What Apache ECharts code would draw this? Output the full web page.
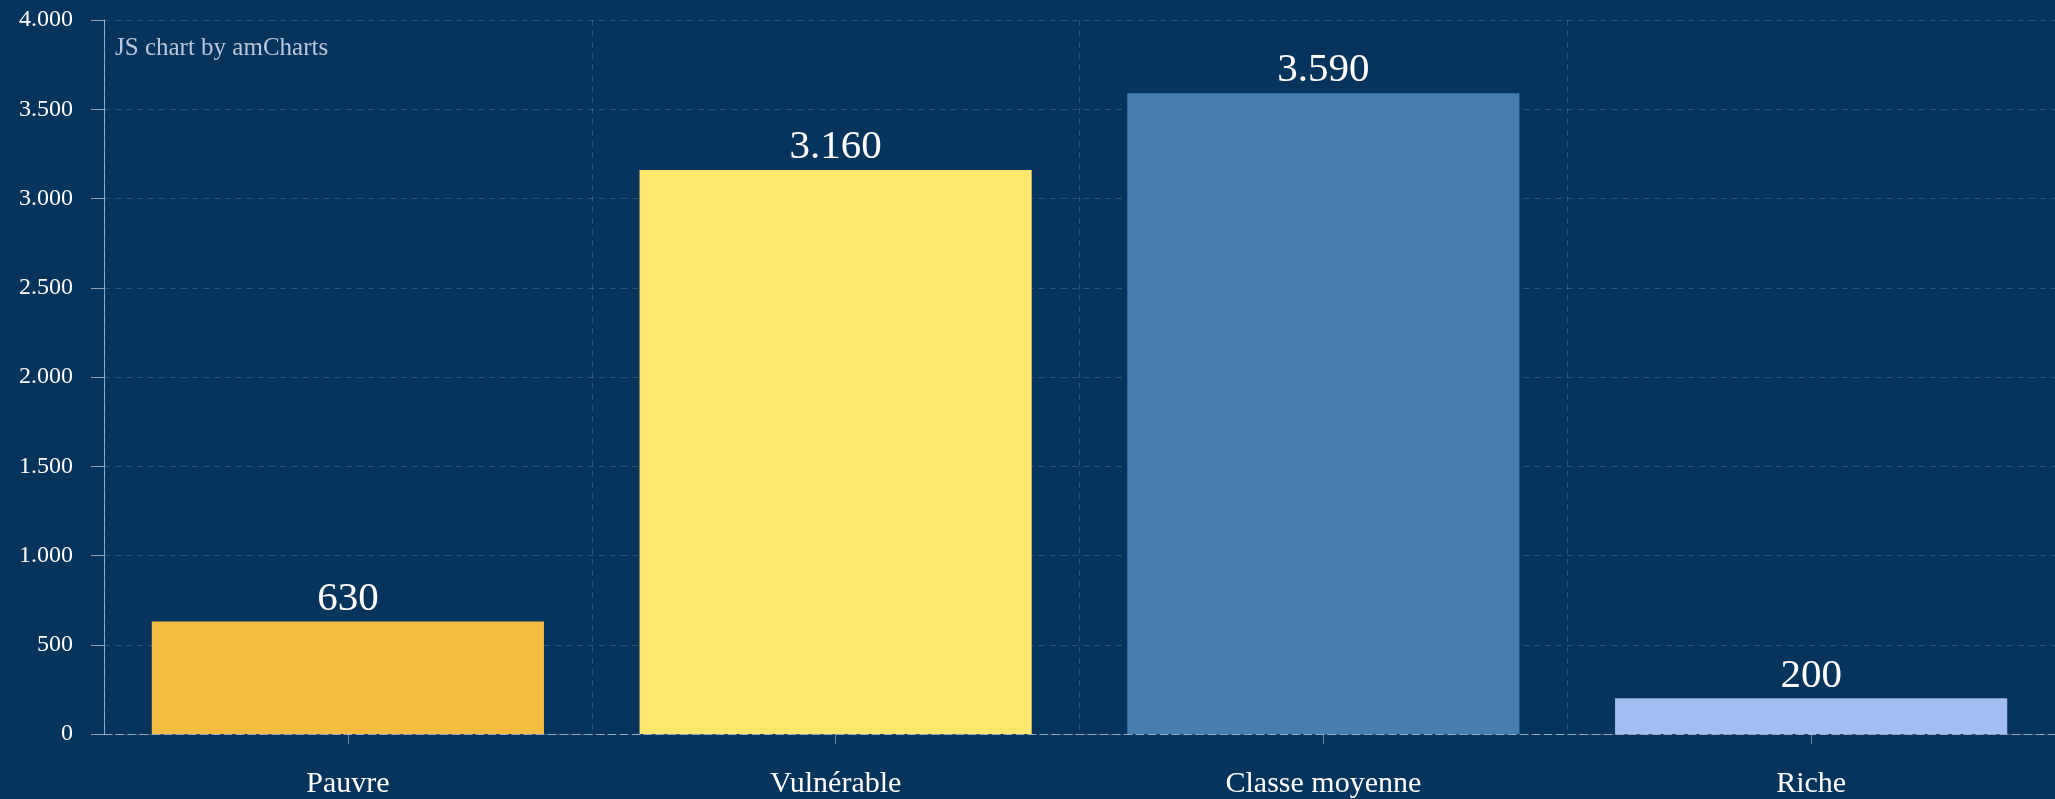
<!DOCTYPE html>
<html>
<head>
<meta charset="utf-8">
<script src="https://cdn.jsdelivr.net/npm/echarts@6/dist/echarts.min.js"></script>
<style>
html,body{margin:0;padding:0;background:#07345d;}
#c{width:2055px;height:799px;}
</style>
</head>
<body>
<div id="c"></div>
<script>
const categories = ['Pauvre', 'Vulnérable', 'Classe moyenne', 'Riche'];
const values = [630, 3160, 3590, 200];
const barColors = ['#F2BC42', '#FFE76E', '#477DAF', '#A0BEF0'];
const yTicks = [0, 500, 1000, 1500, 2000, 2500, 3000, 3500, 4000];

function fmt(v) {
  return String(Math.round(v)).replace(/\B(?=(\d{3})+(?!\d))/g, '.');
}

const chart = echarts.init(document.getElementById('c'));
chart.setOption({
  backgroundColor: '#07345d',
  animation: false,
  textStyle: { fontFamily: 'Liberation Serif, Times New Roman, serif' },
  graphic: [{
    type: 'text', left: 115, top: 36,
    style: { text: 'JS chart by amCharts', fill: '#b8c8dc', font: '25px "Liberation Serif", serif' }
  }],
  grid: { left: 104, right: -12, top: 20, bottom: 64, containLabel: false },
  xAxis: {
    type: 'category',
    data: categories,
    axisLine: { show: true, lineStyle: { color: 'rgba(255,255,255,0.55)', type: [8, 4], width: 1 } },
    axisTick: { show: true, alignWithLabel: true, length: 10, lineStyle: { color: 'rgba(255,255,255,0.4)' } },
    axisLabel: { color: '#ffffff', fontSize: 30, margin: 35, fontFamily: 'Liberation Serif' },
    splitLine: { show: true, lineStyle: { color: 'rgba(255,255,255,0.15)', type: [6, 5] } }
  },
  yAxis: {
    type: 'value',
    min: yTicks[0],
    max: yTicks[yTicks.length - 1],
    interval: 500,
    axisLine: { show: true, lineStyle: { color: 'rgba(255,255,255,0.55)', width: 1 } },
    axisTick: { show: true, length: 13, lineStyle: { color: 'rgba(255,255,255,0.55)' } },
    axisLabel: { color: '#ffffff', fontSize: 24, margin: 31, padding: [5, 0, 0, 0], formatter: fmt, fontFamily: 'Liberation Serif' },
    splitLine: { show: true, lineStyle: { color: 'rgba(255,255,255,0.15)', type: [6, 5] } }
  },
  series: [{
    type: 'bar',
    data: values.map((v, i) => ({ value: v, itemStyle: { color: barColors[i] } })),
    barCategoryGap: '19.6%',
    label: {
      show: true, position: 'top', distance: 2,
      color: '#ffffff', fontSize: 41, fontFamily: 'Liberation Serif',
      formatter: p => fmt(p.value)
    }
  }]
});
</script>
</body>
</html>
